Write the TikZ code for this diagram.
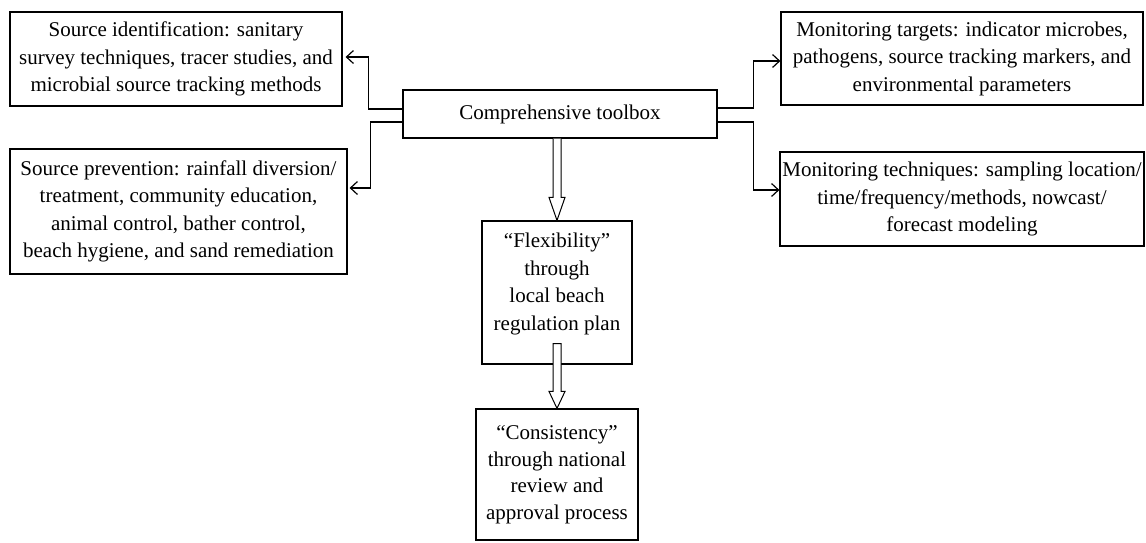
\documentclass[tikz,border=0pt]{standalone}
\usepackage{fontspec}
\setmainfont{Liberation Serif}
\usepackage{tikz}
\usetikzlibrary{positioning,arrows.meta}
\tikzstyle{box}=[draw, line width=1.2pt, align=center, inner sep=1pt]
\tikzstyle{hollow}=[draw, fill=white, line width=1pt]

\begin{document}
\begin{tikzpicture}[x=1pt,y=1pt,font=\fontsize{21}{27.5}\selectfont,
  >={Straight Barb[length=7pt,width=13pt]}, line width=1.2pt]
\useasboundingbox (0,0) rectangle (1146,-542);

\node[box, minimum width=314pt, minimum height=48pt] at (560,-114) (toolbox) {Comprehensive toolbox};

\node[box, left of = toolbox, node distance = 384pt, yshift = 55pt,
  minimum width=332pt, minimum height=94pt] (ident)
  {Source identification: sanitary\\survey techniques, tracer studies, and\\microbial source tracking methods};
\node[box, left of = toolbox, node distance = 381.5pt, yshift = -97.5pt,
  minimum width=337pt, minimum height=125pt] (prev)
  {Source prevention: rainfall diversion/\\treatment, community education,\\animal control, bather control,\\beach hygiene, and sand remediation};

\node[box, right of = toolbox, node distance = 402pt, yshift = 55.5pt,
  minimum width=362pt, minimum height=93pt] (targets)
  {Monitoring targets: indicator microbes,\\pathogens, source tracking markers, and\\environmental parameters};
\node[box, right of = toolbox, node distance = 402pt, yshift = -85pt,
  minimum width=364pt, minimum height=94pt] (techniques)
  {Monitoring techniques: sampling location/\\time/frequency/methods, nowcast/\\forecast modeling};

\node[box, below of = toolbox, node distance = 178.5pt, xshift = -3pt,
  minimum width=150pt, minimum height=143pt] (flex)
  {“Flexibility”\\through\\local beach\\regulation plan\\[-6pt]\mbox{}};
\node[box, below of = flex, node distance = 182pt,
  minimum width=162pt, minimum height=131pt, font=\fontsize{21}{26.5}\selectfont] (cons)
  {“Consistency”\\through national\\review and\\approval process};

% toolbox to the four sides
\draw[->] ([yshift=5pt]toolbox.west) -- ++(-34pt,0) |- ([xshift=3pt,yshift=2pt]ident.east);
\draw[->] ([yshift=-8pt]toolbox.west) -- ++(-32pt,0) |- ([xshift=2pt,yshift=23.5pt]prev.east);
\draw[->] ([yshift=6pt]toolbox.east) -- ++(36pt,0) |- ([yshift=-2.5pt]targets.west);
\draw[->] ([yshift=-8pt]toolbox.east) -- ++(36pt,0) |- ([yshift=9pt]techniques.west);

% hollow arrows downwards
\draw[hollow] ([xshift=-4pt]flex.north |- toolbox.south) -- ([xshift=-4pt,yshift=23pt]flex.north)
  -- ([xshift=-8pt,yshift=23pt]flex.north) -- (flex.north) -- ([xshift=8pt,yshift=23pt]flex.north)
  -- ([xshift=4pt,yshift=23pt]flex.north) -- ([xshift=4pt]flex.north |- toolbox.south);
\draw[hollow] ([xshift=-4pt,yshift=21pt]flex.south) -- ([xshift=-4pt,yshift=17pt]cons.north)
  -- ([xshift=-8pt,yshift=17pt]cons.north) -- (cons.north) -- ([xshift=8pt,yshift=17pt]cons.north)
  -- ([xshift=4pt,yshift=17pt]cons.north) -- ([xshift=4pt,yshift=21pt]flex.south) -- cycle;
\end{tikzpicture}
\end{document}
